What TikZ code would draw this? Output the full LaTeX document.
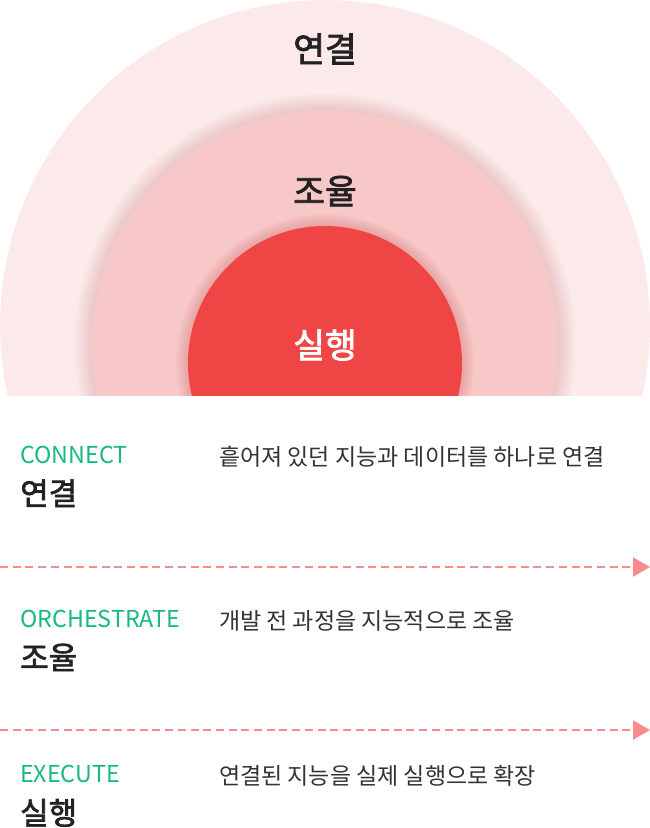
\documentclass[tikz,border=0pt]{standalone}
\usepackage{fontspec}
\setmainfont{Noto Sans CJK KR}
\newfontfamily\krmed[FakeBold=2.2]{Noto Sans CJK KR}
\usetikzlibrary{arrows.meta}
\definecolor{outerc}{HTML}{FCEAEA}
\definecolor{midc}{HTML}{F8C8C8}
\definecolor{innerc}{HTML}{EF4545}
\definecolor{glowa}{HTML}{E9A3A3}
\definecolor{glowb}{HTML}{D97B7B}
\definecolor{greenc}{HTML}{17B883}
\definecolor{darkc}{HTML}{222222}
\definecolor{descc}{HTML}{333333}
\definecolor{arrowc}{HTML}{F98B8B}
\tikzset{
  toplabel/.style={anchor=base, inner sep=0pt, font=\fontsize{34.5}{38}\selectfont\krmed, text=darkc},
  engl/.style={anchor=base west, inner sep=0pt, font=\fontsize{23.3}{26}\selectfont, text=greenc},
  korl/.style={anchor=base west, inner sep=0pt, font=\fontsize{31}{34}\selectfont\krmed, text=darkc},
  descl/.style={anchor=base west, inner sep=0pt, font=\fontsize{23}{26}\selectfont, text=descc},
  dashline/.style={draw=arrowc, line width=2pt, dash pattern=on 8pt off 4.7pt, -{Triangle[length=17pt,width=19pt]}}
}
\begin{document}
\begin{tikzpicture}[x=1pt,y=-1pt]
\useasboundingbox (0,0) rectangle (650,828);
\begin{scope}
  \clip (0,0) rectangle (650,395);
  \fill[outerc] (325,325) circle (325pt);
  \foreach \i in {1,...,18} {\fill[glowa, opacity=0.025] (325,344) circle ({233+\i*1.0pt});}
  \fill[midc] (325,344) circle (233pt);
  \foreach \i in {1,...,12} {\fill[glowb, opacity=0.04] (325,363) circle ({137+\i*1.0pt});}
  \fill[innerc] (325,363) circle (137pt);
\end{scope}
\node[toplabel] (tconnect) at (325,62) {연결};
\node[toplabel] (torch) at (325,204) {조율};
\node[toplabel, text=white] (texec) at (325,358) {실행};

\node[engl] (e1) at (20,463) {CONNECT};
\node[korl] (k1) at (20,505) {연결};
\node[descl] (d1) at (219,465.5) {흩어져 있던 지능과 데이터를 하나로 연결};

\coordinate (a1s) at (0,567);
\coordinate (a1e) at (650,567);
\draw[dashline] (a1s) -- (a1e);

\node[engl] (e2) at (20,627) {ORCHESTRATE};
\node[korl] (k2) at (20,669) {조율};
\node[descl] (d2) at (219,629.5) {개발 전 과정을 지능적으로 조율};

\coordinate (a2s) at (0,730);
\coordinate (a2e) at (650,730);
\draw[dashline] (a2s) -- (a2e);

\node[engl] (e3) at (20,782) {EXECUTE};
\node[korl] (k3) at (20,824.5) {실행};
\node[descl] (d3) at (219,784.5) {연결된 지능을 실제 실행으로 확장};
\end{tikzpicture}
\end{document}
